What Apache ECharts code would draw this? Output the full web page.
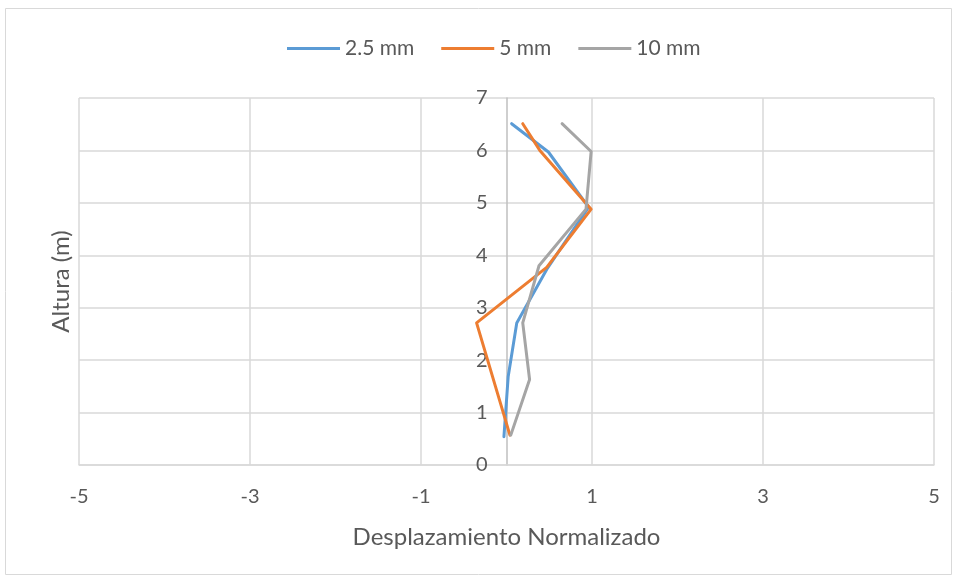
<!DOCTYPE html>
<html><head><meta charset="utf-8">
<script src="https://cdn.jsdelivr.net/npm/echarts@6/dist/echarts.min.js"></script>
<style>html,body{margin:0;padding:0;background:#fff}#c{width:958px;height:580px}</style>
</head><body><div id="c"></div>
<script>
const seriesNames = ['2.5 mm', '5 mm', '10 mm'];
const alturaBlue = [6.51, 5.97, 4.92, 3.73, 2.71, 1.69, 0.54];
const despBlue   = [0.06, 0.49, 0.96, 0.47, 0.12, 0.02, -0.03];
const alturaOrange = [6.51, 6.00, 4.88, 3.77, 2.71, 0.57];
const despOrange   = [0.19, 0.39, 0.99, 0.47, -0.35, 0.04];
const alturaGray = [6.51, 5.98, 4.88, 3.80, 2.71, 1.63, 0.57];
const despGray   = [0.65, 0.99, 0.93, 0.38, 0.19, 0.27, 0.05];
const xTicks = [-5, -3, -1, 1, 3, 5];
const yTicks = [0, 1, 2, 3, 4, 5, 6, 7];

const colors = ['#5B9BD5', '#ED7D31', '#A5A5A5'];
const pairs = (xs, ys) => xs.map((x, i) => [x, ys[i]]);
const dataSets = [pairs(despBlue, alturaBlue), pairs(despOrange, alturaOrange), pairs(despGray, alturaGray)];
const font = 'Lato, "Open Sans", sans-serif';

const gridLeft = 79, gridRight = 24, W = 958;
const plotW = W - gridLeft - gridRight;
const xMin = xTicks[0], xMax = xTicks[xTicks.length - 1];
// pixel distance from grid left to x=0, used to move the y axis onto x=0
const zeroOffset = plotW * (0 - xMin) / (xMax - xMin);

const chart = echarts.init(document.getElementById('c'));
chart.setOption({
  animation: false,
  color: colors,
  textStyle: { fontFamily: font },
  graphic: [{ type: 'rect', shape: { x: 5.5, y: 8.5, width: 946, height: 566 }, style: { fill: 'none', stroke: '#d9d9d9', lineWidth: 1 }, silent: true }],
  legend: {
    top: 33, left: 282,
    data: seriesNames,
    icon: 'rect', itemWidth: 53, itemHeight: 3, itemGap: 27,
    textStyle: { color: '#595959', fontSize: 21, fontFamily: font }
  },
  grid: { left: gridLeft, right: gridRight, top: 98, bottom: 115, containLabel: false, outerBoundsMode: 'none' },
  xAxis: {
    type: 'value', min: xMin, max: xMax, interval: 2,
    name: 'Desplazamiento Normalizado', nameLocation: 'middle', nameGap: 60,
    nameTextStyle: { color: '#595959', fontSize: 24, fontFamily: font },
    axisLine: { show: true, onZero: false, lineStyle: { color: '#d9d9d9', width: 1.5 } },
    axisTick: { show: false },
    axisLabel: { color: '#595959', fontSize: 20, margin: 22, fontFamily: font },
    splitLine: { show: true, lineStyle: { color: '#d9d9d9', width: 1.5 } }
  },
  yAxis: {
    type: 'value', min: yTicks[0], max: yTicks[yTicks.length - 1], interval: 1,
    offset: -zeroOffset,
    name: 'Altura (m)', nameLocation: 'middle', nameRotate: 90, nameGap: zeroOffset + gridLeft - 73,
    nameTextStyle: { color: '#595959', fontSize: 24, fontFamily: font },
    axisLine: { show: true, onZero: false, lineStyle: { color: '#bfbfbf', width: 1.5 } },
    axisTick: { show: false },
    axisLabel: { color: '#595959', fontSize: 20, margin: 19, fontFamily: font },
    splitLine: { show: true, lineStyle: { color: '#d9d9d9', width: 1.5 } }
  },
  series: seriesNames.map((n, i) => ({
    name: n, type: 'line', data: dataSets[i], symbol: 'none',
    lineStyle: { width: 3, color: colors[i], cap: 'round', join: 'round' },
    itemStyle: { color: colors[i] }
  }))
});
</script></body></html>
